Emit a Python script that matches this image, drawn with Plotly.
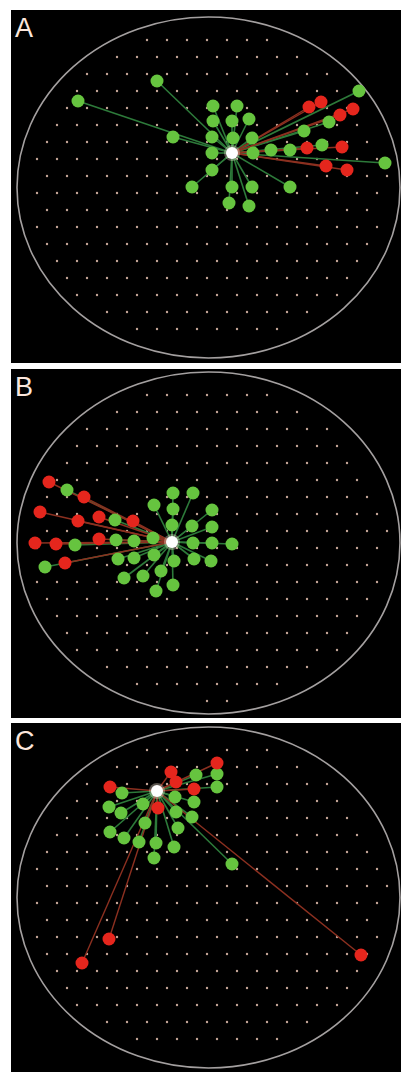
import numpy as np
import plotly.graph_objects as go

# ---------------- data (image units) ----------------
panel_labels = ["A", "B", "C"]

A_center_x = [232]
A_center_y = [153]
A_green_x = [157, 78, 173, 213, 237, 213, 232, 249, 212, 233, 252, 212, 253, 212, 192, 232, 252, 290, 229, 249, 271, 290, 304, 329, 322, 359, 385]
A_green_y = [81, 101, 137, 106, 106, 121, 121, 119, 137, 138, 138, 153, 153, 170, 187, 187, 187, 187, 203, 206, 150, 150, 131, 122, 145, 91, 163]
A_red_x = [309, 321, 340, 353, 307, 342, 326, 347]
A_red_y = [107, 102, 115, 109, 148, 147, 166, 170]

B_center_x = [172]
B_center_y = [542]
B_green_x = [67, 173, 193, 154, 173, 212, 115, 172, 192, 212, 153, 116, 134, 75, 193, 212, 232, 118, 134, 154, 174, 194, 211, 45, 124, 143, 161, 173, 156]
B_green_y = [490, 493, 493, 505, 509, 510, 520, 525, 526, 527, 538, 540, 541, 545, 543, 543, 544, 559, 558, 555, 561, 559, 561, 567, 578, 576, 571, 585, 591]
B_red_x = [49, 84, 40, 78, 99, 133, 35, 56, 99, 65]
B_red_y = [482, 497, 512, 521, 517, 521, 543, 544, 539, 563]

C_center_x = [157]
C_center_y = [791]
C_green_x = [196, 217, 217, 122, 175, 194, 109, 143, 121, 176, 192, 145, 110, 178, 124, 139, 156, 174, 154, 232]
C_green_y = [775, 774, 787, 793, 797, 802, 807, 804, 813, 812, 817, 823, 832, 828, 838, 842, 843, 847, 858, 864]
C_red_x = [217, 171, 176, 110, 194, 158, 109, 82, 361]
C_red_y = [763, 772, 782, 787, 789, 808, 939, 963, 955]

# ---------------- layout constants ----------------
W, H = 401, 1072
LEFT = 11
panel_top = [10, 369, 723]
panel_bot = [363, 718, 1072]
ell_y = [(17, 358), (372, 714), (727, 1068)]
ell_x = (17, 400)

GREEN = "#66c43f"
RED = "#e5261d"
GLINE = "#2d7a3a"
RLINE = "#8c3020"
DOT = "#c4a597"

panels = [
    (A_center_x, A_center_y, A_green_x, A_green_y, A_red_x, A_red_y),
    (B_center_x, B_center_y, B_green_x, B_green_y, B_red_x, B_red_y),
    (C_center_x, C_center_y, C_green_x, C_green_y, C_red_x, C_red_y),
]

fig = go.Figure()


def edges(cx, cy, xs, ys):
    ex, ey = [], []
    for x, y in zip(xs, ys):
        ex += [cx, x, None]
        ey += [cy, y, None]
    return ex, ey


for i, (cxs, cys, gx, gy, rx, ry) in enumerate(panels):
    ax = "" if i == 0 else str(i + 1)
    xr, yr = "x" + ax, "y" + ax
    cx, cy = cxs[0], cys[0]
    # background lattice of small dots inside the ellipse
    x0, x1 = ell_x
    y0, y1 = ell_y[i]
    ecx, ecy = (x0 + x1) / 2, (y0 + y1) / 2
    ra, rb = (x1 - x0) / 2 - 12, (y1 - y0) / 2 - 12
    dxs, dys = [], []
    row = 0
    yy = y0 + 6
    while yy < y1:
        off = 10 if row % 2 else 0
        xx = x0 + off
        while xx < x1:
            if ((xx - ecx) / ra) ** 2 + ((yy - ecy) / rb) ** 2 <= 1:
                dxs.append(xx)
                dys.append(yy)
            xx += 20
        yy += 17
        row += 1
    fig.add_trace(go.Scatter(x=dxs, y=dys, mode="markers", xaxis=xr, yaxis=yr,
                             marker=dict(size=2.4, color=DOT), hoverinfo="skip",
                             showlegend=False))
    # edges
    ex, ey = edges(cx, cy, gx, gy)
    fig.add_trace(go.Scatter(x=ex, y=ey, mode="lines", xaxis=xr, yaxis=yr,
                             line=dict(color=GLINE, width=1.6), hoverinfo="skip",
                             showlegend=False))
    ex, ey = edges(cx, cy, rx, ry)
    fig.add_trace(go.Scatter(x=ex, y=ey, mode="lines", xaxis=xr, yaxis=yr,
                             line=dict(color=RLINE, width=1.4), hoverinfo="skip",
                             showlegend=False))
    # nodes
    fig.add_trace(go.Scatter(x=gx, y=gy, mode="markers", xaxis=xr, yaxis=yr,
                             marker=dict(size=13, color=GREEN, line=dict(width=0)),
                             showlegend=False))
    fig.add_trace(go.Scatter(x=rx, y=ry, mode="markers", xaxis=xr, yaxis=yr,
                             marker=dict(size=13, color=RED, line=dict(width=0)),
                             showlegend=False))
    fig.add_trace(go.Scatter(x=cxs, y=cys, mode="markers", xaxis=xr, yaxis=yr,
                             marker=dict(size=16, color="rgba(255,240,220,0.35)", line=dict(width=0)),
                             hoverinfo="skip", showlegend=False))
    fig.add_trace(go.Scatter(x=cxs, y=cys, mode="markers", xaxis=xr, yaxis=yr,
                             marker=dict(size=12, color="#ffffff", line=dict(width=0)),
                             showlegend=False))
    # ellipse outline
    fig.add_shape(type="circle", xref=xr, yref=yr, x0=x0, x1=x1, y0=y0, y1=y1,
                  line=dict(color="#a4a0a0", width=1.6), layer="below")
    # axes
    dom_y = [1 - panel_bot[i] / H, 1 - panel_top[i] / H]
    fig.update_layout(**{
        "xaxis" + ax: dict(domain=[LEFT / W, 1], range=[LEFT, W], visible=False,
                           fixedrange=True, anchor=yr),
        "yaxis" + ax: dict(domain=dom_y, range=[panel_bot[i], panel_top[i]], visible=False,
                           fixedrange=True, anchor=xr),
    })
    fig.add_annotation(text=panel_labels[i], xref="paper", yref="paper",
                       x=13 / W, y=1 - (panel_top[i] + 1) / H, xanchor="left", yanchor="top",
                       showarrow=False,
                       font=dict(family="Liberation Sans, Arial", size=27, color="#fbe6dc"))

fig.update_layout(width=W, height=H, margin=dict(l=0, r=0, t=0, b=0),
                  paper_bgcolor="white", plot_bgcolor="black", showlegend=False)

fig.write_html("out.html", config={"displayModeBar": False},
               post_script="document.body.style.margin='0';document.body.style.overflow='hidden';")
